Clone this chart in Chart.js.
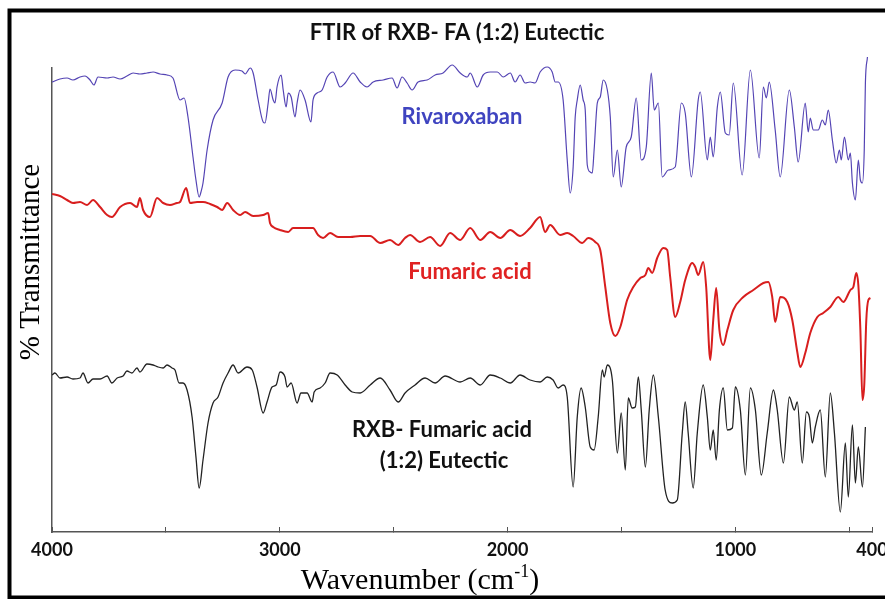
<!DOCTYPE html>
<html>
<head>
<meta charset="utf-8">
<script src="https://cdn.jsdelivr.net/npm/chart.js@4"></script>
<style>
  body { margin: 0; background: #fff; }
  #wrap { width: 885px; height: 599px; }
</style>
</head>
<body>
<div id="wrap"><canvas id="ftirChart" width="885" height="599"></canvas></div>
<script>
// wavenumber (cm-1) and offset transmittance
const rxbWn = [4000, 3965, 3934, 3908, 3877, 3855, 3833, 3816, 3798, 3758, 3732, 3701, 3671, 3644, 3614, 3583, 3556, 3526, 3495, 3469,
  3438, 3420, 3403, 3381, 3368, 3354, 3346, 3337, 3319, 3293, 3253, 3227, 3196, 3166, 3152, 3130, 3117, 3095, 3073, 3065,
  3051, 3043, 3029, 3021, 3012, 2994, 2985, 2972, 2963, 2950, 2933, 2924, 2911, 2889, 2863, 2854, 2836, 2814, 2792, 2766,
  2735, 2713, 2678, 2647, 2617, 2590, 2546, 2507, 2485, 2463, 2441, 2419, 2393, 2353, 2318, 2283, 2243, 2208, 2177, 2164,
  2133, 2107, 2076, 2045, 2019, 1988, 1967, 1945, 1923, 1901, 1879, 1857, 1826, 1804, 1791, 1778, 1756, 1738, 1725, 1712,
  1703, 1694, 1681, 1668, 1659, 1650, 1637, 1628, 1620, 1606, 1593, 1580, 1562, 1549, 1536, 1518, 1501, 1479, 1457, 1435,
  1413, 1391, 1369, 1356, 1338, 1321, 1294, 1264, 1237, 1220, 1193, 1163, 1154, 1123, 1110, 1097, 1079, 1066, 1044, 1027,
  1009, 970, 934, 895, 877, 864, 851, 825, 803, 763, 741, 724, 693, 680, 671, 658, 636, 618, 605, 592,
  574, 557, 543, 535, 521, 504, 495, 486, 473, 460, 451, 442, 434, 429, 420];
const rxbT = [112.5, 113.25, 113.5, 113, 113.75, 114, 113, 111.75, 113.75, 113.5, 113.75, 113.25, 114, 114.75, 114.5, 114.75, 115, 114.5, 114.25, 113.5,
  108, 108.5, 103.75, 93.75, 88, 83.75, 85, 87.25, 95.5, 103, 107.25, 113.75, 115.5, 115.25, 114.5, 116, 114.75, 108, 102.5, 102.25,
  107.25, 110.75, 108, 107.25, 111.25, 114.25, 110.5, 106.25, 109.75, 108.75, 103.75, 107.25, 110.5, 108, 102.5, 108, 109.75, 110.5, 113.75, 115,
  111.25, 112.25, 114.75, 112.5, 111.25, 112.5, 113, 113.5, 111, 113.75, 112.25, 110.5, 112.5, 113, 114.25, 114.75, 116.75, 114.75, 113.75, 114.75,
  111.25, 114.25, 115, 115, 113.75, 114.75, 112.5, 114.25, 112.25, 112.5, 112.25, 115, 116.25, 115, 112.5, 112.5, 108, 93, 84.75, 91.25,
  103.75, 108, 111.75, 108, 105.5, 91.75, 90, 89.75, 95.5, 107.25, 108.75, 113, 110.5, 103.75, 88.75, 95.5, 86.25, 96.25, 98.75, 108.5,
  93, 96.25, 114.75, 105.5, 107.25, 88.75, 90.5, 91.25, 107.25, 104.75, 88.75, 108, 110, 93, 98.75, 93.75, 106.25, 110, 99.75, 99.25,
  112.25, 89.25, 115.5, 93.5, 111.25, 108.5, 112.5, 100.5, 88.75, 110.5, 101.25, 92.5, 107.25, 100, 103.5, 100.5, 100.5, 103, 101.75, 105.5,
  98, 92.25, 95.5, 93, 98.75, 93, 94.75, 87.25, 83, 93, 88, 87.25, 95.5, 112.25, 118.75];

const faWn = [4000, 3965, 3934, 3908, 3877, 3846, 3820, 3789, 3758, 3737, 3701, 3657, 3627, 3614, 3600, 3570, 3539, 3512, 3482, 3451,
  3438, 3411, 3394, 3363, 3337, 3306, 3275, 3253, 3231, 3205, 3174, 3152, 3117, 3073, 3051, 3043, 3029, 2999, 2963, 2942,
  2898, 2854, 2832, 2810, 2779, 2744, 2691, 2647, 2603, 2559, 2516, 2480, 2450, 2428, 2384, 2340, 2296, 2252, 2208, 2164,
  2120, 2076, 2032, 1988, 1945, 1901, 1857, 1835, 1813, 1769, 1738, 1712, 1672, 1646, 1615, 1593, 1571, 1549, 1527, 1505,
  1475, 1448, 1417, 1395, 1382, 1365, 1343, 1316, 1299, 1286, 1264, 1242, 1220, 1189, 1176, 1163, 1141, 1128, 1110, 1097,
  1084, 1070, 1053, 1035, 1009, 965, 921, 877, 855, 838, 825, 803, 772, 750, 728, 715, 693, 671, 640, 614,
  583, 548, 526, 495, 482, 469, 460, 451, 442, 434, 425, 416, 407];
const faT = [84.5, 84, 83, 82.25, 82.5, 81.75, 83, 81.25, 79.25, 78.75, 81.25, 82.25, 81.25, 83.5, 80.5, 78.75, 83.5, 82.25, 81.75, 82.25,
  82.5, 86, 82.25, 82.5, 82.5, 82, 81.25, 80.5, 82.25, 80.5, 79.25, 80, 79, 79.25, 79.75, 77.25, 76.25, 75.5, 75, 76,
  76, 76, 74.25, 73.5, 74.75, 73.75, 73.75, 74, 74, 72.25, 73, 71.75, 73.5, 74.25, 72.5, 73.75, 71.5, 74.75, 73, 76,
  73, 75, 73.5, 75.5, 74, 76, 78.75, 75, 76.75, 74.25, 74.75, 74, 72.25, 73.5, 72.5, 70.5, 61.25, 52.25, 49, 51.25,
  58, 61.25, 63.5, 64.25, 66, 64.75, 68.5, 71, 70.5, 63.75, 53.75, 57.5, 63, 67.25, 66.25, 64.25, 67.5, 61.25, 43, 53,
  61, 50.5, 46.75, 50.5, 55.5, 58.75, 60.5, 62.25, 62.5, 58.75, 52.5, 58.75, 57.5, 53, 45, 41.25, 44.75, 49.75, 53.75, 54.75,
  56.25, 58.75, 57.5, 60.5, 61.25, 64.75, 61.75, 50.5, 33, 36.75, 53, 58, 58.5];

const eutWn = [4000, 3987, 3965, 3934, 3908, 3877, 3864, 3842, 3820, 3789, 3758, 3737, 3714, 3688, 3671, 3649, 3627, 3614, 3583, 3556,
  3534, 3512, 3495, 3473, 3460, 3442, 3425, 3407, 3385, 3368, 3354, 3337, 3315, 3293, 3271, 3249, 3227, 3205, 3183, 3144,
  3121, 3100, 3073, 3056, 3034, 3016, 2999, 2977, 2968, 2950, 2924, 2907, 2880, 2858, 2849, 2823, 2801, 2779, 2748, 2713,
  2682, 2647, 2603, 2559, 2516, 2480, 2450, 2406, 2362, 2318, 2274, 2208, 2164, 2120, 2076, 2032, 1988, 1945, 1901, 1857,
  1826, 1800, 1778, 1756, 1738, 1712, 1694, 1677, 1659, 1637, 1620, 1602, 1584, 1576, 1562, 1540, 1518, 1501, 1483, 1470,
  1453, 1439, 1426, 1413, 1395, 1378, 1360, 1338, 1308, 1277, 1255, 1233, 1220, 1207, 1185, 1167, 1141, 1123, 1110, 1097,
  1084, 1070, 1053, 1035, 1013, 1000, 978, 956, 934, 912, 886, 860, 833, 816, 789, 763, 741, 728, 706, 688,
  675, 662, 649, 627, 605, 583, 565, 539, 517, 504, 486, 473, 460, 442, 429];
const eutT = [39.25, 39.75, 38.5, 38.75, 38.25, 38.5, 39.75, 37.25, 38.25, 38.25, 39, 37.25, 38.5, 39, 40.25, 39.75, 41, 40, 42, 41.75,
  41.25, 41, 41.75, 41, 40.5, 37.25, 37.25, 35.5, 28.75, 18.75, 11, 18, 27.25, 32.25, 33.75, 37.25, 39.75, 41.75, 39.75, 41.25,
  40.5, 36.25, 29.75, 32.5, 36.25, 36.75, 40, 38.75, 36.25, 37.25, 32.25, 34.75, 34.75, 32.5, 35, 36, 37.25, 39.75, 39.25, 36.75,
  35, 34.75, 36.75, 38.5, 35.5, 32.5, 34.75, 36.75, 38.5, 37.25, 39, 37.5, 38.5, 36.75, 39.25, 38.5, 37.25, 39.25, 38, 37.5,
  38.75, 38, 36, 36.75, 33.75, 11.25, 28.75, 36, 31.25, 21.25, 20.5, 28.75, 40.5, 38.75, 41.75, 38, 19.75, 29.75, 15.5, 33.5,
  31, 31.25, 38.75, 30.5, 16.25, 30.5, 39.25, 28.75, 10.5, 7.25, 8, 24.75, 32.5, 24.75, 11, 24.75, 36.75, 28.75, 20.5, 25.5,
  18, 30.5, 36, 25.5, 26, 36.25, 30.5, 14.25, 36, 30.5, 14.25, 24.75, 35.5, 30.5, 17.25, 33.75, 30.5, 32.5, 17.25, 30,
  28.75, 22.25, 26.25, 30.5, 13.75, 34.75, 24.75, 5, 22.25, 8.75, 26.75, 12.25, 21.25, 11.25, 26.25];

const tickValues = [4000, 3500, 3000, 2500, 2000, 1500, 1000, 500, 400];
const tickLabels = [4000, 3000, 2000, 1000, 400];

function toPoints(xs, ys) {
  return xs.map((x, i) => ({ x: x, y: ys[i] }));
}

const overlay = {
  id: 'overlay',
  afterDraw(chart) {
    const ctx = chart.ctx;
    ctx.save();

    // frame round the figure
    ctx.strokeStyle = '#000';
    ctx.lineWidth = 4;
    ctx.strokeRect(9.5, 10.5, 890, 587);

    ctx.textAlign = 'center';
    ctx.textBaseline = 'middle';

    ctx.fillStyle = '#111';
    ctx.font = 'bold 22px Lato';
    ctx.fillText('FTIR of RXB- FA (1:2) Eutectic', 457, 33);

    ctx.font = 'bold 22px Lato';
    ctx.fillStyle = '#3f44c0';
    ctx.fillText('Rivaroxaban', 462, 117);
    ctx.fillStyle = '#e02222';
    ctx.fillText('Fumaric acid', 470, 272);
    ctx.fillStyle = '#111';
    ctx.fillText('RXB- Fumaric acid', 442, 430);
    ctx.fillText('(1:2) Eutectic', 444, 461);

    // y title
    ctx.save();
    ctx.translate(31, 262);
    ctx.rotate(-Math.PI / 2);
    ctx.font = '29px "Liberation Serif"';
    ctx.fillStyle = '#000';
    ctx.fillText('% Transmittance', 0, 0);
    ctx.restore();

    // x title with superscript
    ctx.fillStyle = '#000';
    ctx.textBaseline = 'alphabetic';
    ctx.textAlign = 'left';
    const main = 'Wavenumber (cm';
    ctx.font = '30px "Liberation Serif"';
    const w1 = ctx.measureText(main).width;
    ctx.font = '18px "Liberation Serif"';
    const w2 = ctx.measureText('-1').width;
    ctx.font = '30px "Liberation Serif"';
    const w3 = ctx.measureText(')').width;
    let x = 420 - (w1 + w2 + w3) / 2;
    const base = 589;
    ctx.fillText(main, x, base);
    x += w1;
    ctx.font = '18px "Liberation Serif"';
    ctx.fillText('-1', x, base - 12);
    x += w2;
    ctx.font = '30px "Liberation Serif"';
    ctx.fillText(')', x, base);

    ctx.restore();
  }
};

new Chart(document.getElementById('ftirChart').getContext('2d'), {
  type: 'line',
  data: {
    datasets: [{
      label: 'Rivaroxaban',
      data: toPoints(rxbWn, rxbT),
      borderColor: '#5444b4',
      borderWidth: 1.2,
      clip: false
    }, {
      label: 'Fumaric acid',
      data: toPoints(faWn, faT),
      borderColor: '#d81e1e',
      borderWidth: 2
    }, {
      label: 'RXB- Fumaric acid (1:2) Eutectic',
      data: toPoints(eutWn, eutT),
      borderColor: '#222',
      borderWidth: 1.3
    }]
  },
  options: {
    responsive: false,
    animation: false,
    elements: {
      point: { radius: 0 },
      line: { cubicInterpolationMode: 'monotone' }
    },
    layout: {
      autoPadding: false,
      padding: { top: 68, right: 13, left: 0, bottom: 0 }
    },
    plugins: {
      legend: { display: false },
      tooltip: { enabled: false },
      title: { display: false }
    },
    scales: {
      x: {
        type: 'linear',
        reverse: true,
        min: 400,
        max: 4000,
        afterBuildTicks: (scale) => {
          scale.ticks = tickValues.map(v => ({ value: v }));
        },
        afterFit: (scale) => {
          scale.height = 67;
          scale.paddingLeft = 0;
          scale.paddingRight = 0;
        },
        grid: {
          display: true,
          drawOnChartArea: false,
          drawTicks: true,
          tickLength: -5,
          color: '#555'
        },
        border: { display: true, color: '#555', width: 1.5 },
        ticks: {
          autoSkip: false,
          maxRotation: 0,
          padding: 12,
          color: '#111',
          font: { family: 'Lato', weight: 'bold', size: 18 },
          callback: (v) => tickLabels.includes(v) ? String(v) : ''
        }
      },
      y: {
        min: 0,
        max: 116,
        afterFit: (scale) => { scale.width = 52; },
        grid: { display: false },
        border: { display: true, color: '#555', width: 1.5 },
        ticks: { display: false }
      }
    }
  },
  plugins: [overlay]
});
</script>
</body>
</html>
